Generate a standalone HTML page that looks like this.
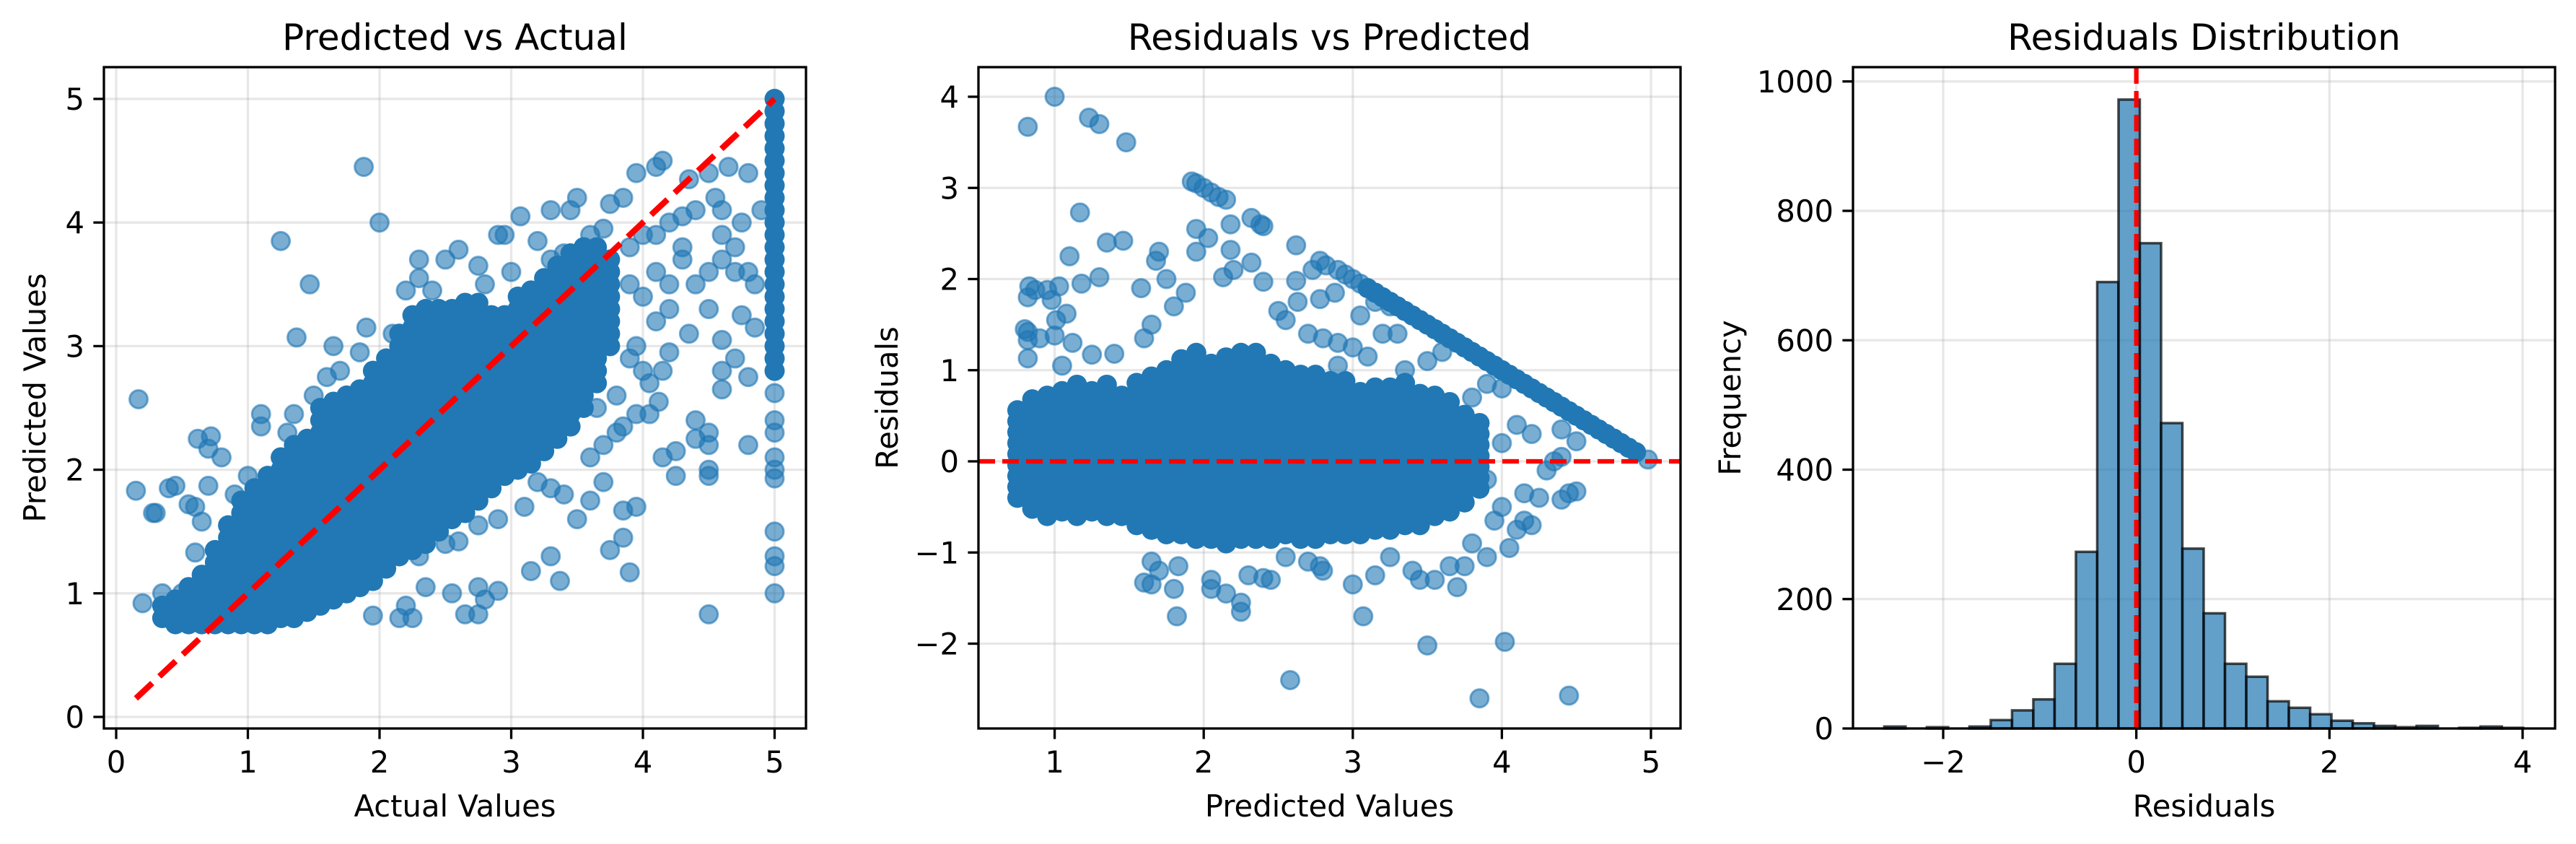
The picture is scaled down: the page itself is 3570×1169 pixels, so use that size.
<!DOCTYPE html>
<html><head><meta charset="utf-8"><title>Regression diagnostics</title>
<style>
html,body{margin:0;padding:0;background:#fff;}
svg{display:block;font-family:"DejaVu Sans","Liberation Sans",sans-serif;}
</style></head>
<body>
<svg id="fig" width="3570" height="1169" viewBox="0 0 3570 1169" xmlns="http://www.w3.org/2000/svg">
<rect width="3570" height="1169" fill="#fff"/>
</svg>
<script>
// ---------- Panel 1 data: Predicted vs Actual ----------
const p1ColX=[0.35,0.45,0.55,0.65,0.75,0.85,0.95,1.05,1.15,1.25,1.35,1.45,1.55,1.65,1.75,1.85,1.95,2.05,2.15,2.25,2.35,2.45,2.55,2.65,2.75,2.85,2.95,3.05,3.15,3.25,3.35,3.45,3.55,3.65,3.75,5.0];
const p1ColY=[
[0.8,0.9],
[0.75,0.85,0.95],
[0.75,0.85,0.95,1.05],
[0.75,0.85,0.95,1.05,1.15],
[0.75,0.85,0.95,1.05,1.15,1.25,1.35],
[0.75,0.85,0.95,1.05,1.15,1.25,1.35,1.45,1.55],
[0.75,0.85,0.95,1.05,1.15,1.25,1.35,1.45,1.55,1.65,1.75],
[0.75,0.85,0.95,1.05,1.15,1.25,1.35,1.45,1.55,1.65,1.75,1.85],
[0.75,0.85,0.95,1.05,1.15,1.25,1.35,1.45,1.55,1.65,1.75,1.85,1.95],
[0.8,0.9,1,1.1,1.2,1.3,1.4,1.5,1.6,1.7,1.8,1.9,2,2.1],
[0.8,0.9,1,1.1,1.2,1.3,1.4,1.5,1.6,1.7,1.8,1.9,2,2.1,2.2],
[0.85,0.95,1.05,1.15,1.25,1.35,1.45,1.55,1.65,1.75,1.85,1.95,2.05,2.15,2.25],
[0.9,1,1.1,1.2,1.3,1.4,1.5,1.6,1.7,1.8,1.9,2,2.1,2.2,2.3,2.4,2.5],
[0.95,1.05,1.15,1.25,1.35,1.45,1.55,1.65,1.75,1.85,1.95,2.05,2.15,2.25,2.35,2.45,2.55],
[1,1.1,1.2,1.3,1.4,1.5,1.6,1.7,1.8,1.9,2,2.1,2.2,2.3,2.4,2.5,2.6],
[1.05,1.15,1.25,1.35,1.45,1.55,1.65,1.75,1.85,1.95,2.05,2.15,2.25,2.35,2.45,2.55,2.65],
[1.1,1.2,1.3,1.4,1.5,1.6,1.7,1.8,1.9,2,2.1,2.2,2.3,2.4,2.5,2.6,2.7,2.8],
[1.2,1.3,1.4,1.5,1.6,1.7,1.8,1.9,2,2.1,2.2,2.3,2.4,2.5,2.6,2.7,2.8,2.9],
[1.3,1.4,1.5,1.6,1.7,1.8,1.9,2,2.1,2.2,2.3,2.4,2.5,2.6,2.7,2.8,2.9,3,3.1],
[1.35,1.45,1.55,1.65,1.75,1.85,1.95,2.05,2.15,2.25,2.35,2.45,2.55,2.65,2.75,2.85,2.95,3.05,3.15,3.25],
[1.4,1.5,1.6,1.7,1.8,1.9,2,2.1,2.2,2.3,2.4,2.5,2.6,2.7,2.8,2.9,3,3.1,3.2,3.3],
[1.5,1.6,1.7,1.8,1.9,2,2.1,2.2,2.3,2.4,2.5,2.6,2.7,2.8,2.9,3,3.1,3.2,3.3],
[1.6,1.7,1.8,1.9,2,2.1,2.2,2.3,2.4,2.5,2.6,2.7,2.8,2.9,3,3.1,3.2,3.3],
[1.65,1.75,1.85,1.95,2.05,2.15,2.25,2.35,2.45,2.55,2.65,2.75,2.85,2.95,3.05,3.15,3.25,3.35],
[1.75,1.85,1.95,2.05,2.15,2.25,2.35,2.45,2.55,2.65,2.75,2.85,2.95,3.05,3.15,3.25,3.35],
[1.85,1.95,2.05,2.15,2.25,2.35,2.45,2.55,2.65,2.75,2.85,2.95,3.05,3.15,3.25],
[1.95,2.05,2.15,2.25,2.35,2.45,2.55,2.65,2.75,2.85,2.95,3.05,3.15,3.25],
[2,2.1,2.2,2.3,2.4,2.5,2.6,2.7,2.8,2.9,3,3.1,3.2,3.3,3.4],
[2.05,2.15,2.25,2.35,2.45,2.55,2.65,2.75,2.85,2.95,3.05,3.15,3.25,3.35,3.45],
[2.15,2.25,2.35,2.45,2.55,2.65,2.75,2.85,2.95,3.05,3.15,3.25,3.35,3.45,3.55],
[2.25,2.35,2.45,2.55,2.65,2.75,2.85,2.95,3.05,3.15,3.25,3.35,3.45,3.55,3.65],
[2.35,2.45,2.55,2.65,2.75,2.85,2.95,3.05,3.15,3.25,3.35,3.45,3.55,3.65,3.75],
[2.5,2.6,2.7,2.8,2.9,3,3.1,3.2,3.3,3.4,3.5,3.6,3.7,3.8],
[2.7,2.8,2.9,3,3.1,3.2,3.3,3.4,3.5,3.6,3.7,3.8],
[3,3.1,3.2,3.3,3.4,3.5,3.6,3.7],
[2.8,2.9,3,3.1,3.2,3.3,3.4,3.5,3.6,3.7,3.8,3.9,4,4.1,4.2,4.3,4.4,4.5,4.6,4.7,4.8,4.9,5]
];
const p1SparseX=[0.17,0.15,0.3,0.28,0.2,0.4,0.45,0.55,0.6,0.62,0.72,0.7,0.8,0.7,0.65,0.6,1.25,1.47,1.37,1.88,2.0,1.1,1.1,1.35,1.65,1.9,1.85,2.1,2.2,2.3,2.5,2.6,2.75,2.9,2.95,3.07,3.2,3.3,3.5,3.45,3.75,3.85,3.95,4.1,4.15,4.35,4.5,4.65,4.8,4.55,4.4,4.2,4.3,4.6,4.7,4.85,4.5,4.35,4.6,4.7,4.75,4.85,4.1,4.0,4.05,4.15,4.2,3.95,4.05,4.12,4.15,4.25,4.25,4.4,4.4,4.5,4.5,4.5,4.5,4.6,4.6,4.8,4.8,4.5,3.85,3.95,3.85,3.75,3.9,3.3,3.37,3.15,3.5,3.6,3.7,3.4,3.3,2.9,2.8,2.75,2.65,2.75,2.55,2.35,2.25,2.15,2.2,1.95,2.3,2.5,2.6,2.75,2.9,3.1,3.2,3.0,3.6,3.7,3.8,3.85,3.65,3.8,3.6,3.9,3.95,3.5,3.75,3.9,4.0,4.1,4.2,4.3,4.4,4.5,4.6,4.7,4.8,4.6,4.75,4.9,4.2,4.0,3.9,4.1,4.3,3.7,3.6,3.4,3.3,3.0,2.8,2.6,2.3,2.4,1.6,1.5,1.7,1.3,1.6,0.9,1.0,0.5,0.35,5.0,5.0,5.0,5.0,5.0,5.0,5.0,5.0,5.0,5.0];
const p1SparseY=[2.57,1.83,1.65,1.65,0.92,1.85,1.87,1.72,1.7,2.25,2.27,2.17,2.1,1.87,1.58,1.33,3.85,3.5,3.07,4.45,4.0,2.45,2.35,2.45,3.0,3.15,2.95,3.1,3.45,3.7,3.7,3.78,3.65,3.9,3.9,4.05,3.85,4.1,4.2,4.1,4.15,4.2,4.4,4.45,4.5,4.35,4.4,4.45,4.4,4.2,4.1,4.0,3.8,3.9,3.6,3.5,3.3,3.1,3.05,2.9,3.25,3.15,3.2,2.8,2.7,2.8,2.95,2.45,2.45,2.55,2.1,2.15,1.95,2.25,2.4,2.3,2.2,2.0,1.95,2.65,2.8,2.2,2.75,0.83,1.67,1.7,1.45,1.35,1.17,1.3,1.1,1.18,1.6,1.75,1.9,1.8,1.85,1.02,0.95,1.05,0.83,0.83,1.0,1.05,0.8,0.8,0.9,0.82,1.3,1.4,1.42,1.55,1.6,1.7,1.9,2.0,2.1,2.2,2.3,2.35,2.5,2.6,2.8,2.9,3.0,3.0,3.3,3.5,3.4,3.6,3.5,3.7,3.5,3.6,3.7,3.8,3.6,4.1,4.0,4.1,3.3,3.9,3.8,3.9,4.05,3.95,3.9,3.75,3.7,3.6,3.5,3.3,3.55,3.45,2.75,2.6,2.8,2.3,2.3,1.8,1.95,1.0,1.0,1.0,1.22,1.3,1.5,1.93,2.0,2.1,2.3,2.4,2.62];
const p1Ticks=[0,1,2,3,4,5];

// ---------- Panel 2 data: Residuals vs Predicted ----------
const p2ColX=[0.75,0.85,0.95,1.05,1.15,1.25,1.35,1.45,1.55,1.65,1.75,1.85,1.95,2.05,2.15,2.25,2.35,2.45,2.55,2.65,2.75,2.85,2.95,3.05,3.15,3.25,3.35,3.45,3.55,3.65,3.75,3.85];
const p2ColY=[
[-0.4,-0.28,-0.16,-0.04,0.08,0.2,0.32,0.44,0.56],
[-0.52,-0.4,-0.28,-0.16,-0.04,0.08,0.2,0.32,0.44,0.56,0.68],
[-0.6,-0.48,-0.36,-0.24,-0.12,0,0.12,0.24,0.36,0.48,0.6,0.72],
[-0.55,-0.43,-0.31,-0.19,-0.07,0.05,0.17,0.29,0.41,0.53,0.65,0.77],
[-0.6,-0.48,-0.36,-0.24,-0.12,0,0.12,0.24,0.36,0.48,0.6,0.72,0.84],
[-0.55,-0.43,-0.31,-0.19,-0.07,0.05,0.17,0.29,0.41,0.53,0.65,0.77],
[-0.6,-0.48,-0.36,-0.24,-0.12,0,0.12,0.24,0.36,0.48,0.6,0.72,0.84],
[-0.6,-0.48,-0.36,-0.24,-0.12,0,0.12,0.24,0.36,0.48,0.6,0.72],
[-0.7,-0.58,-0.46,-0.34,-0.22,-0.1,0.02,0.14,0.26,0.38,0.5,0.62,0.74,0.86],
[-0.75,-0.63,-0.51,-0.39,-0.27,-0.15,-0.03,0.09,0.21,0.33,0.45,0.57,0.69,0.81,0.93],
[-0.8,-0.68,-0.56,-0.44,-0.32,-0.2,-0.08,0.04,0.16,0.28,0.4,0.52,0.64,0.76,0.88,1.0],
[-0.8,-0.68,-0.56,-0.44,-0.32,-0.2,-0.08,0.04,0.16,0.28,0.4,0.52,0.64,0.76,0.88,1.0,1.12],
[-0.85,-0.73,-0.61,-0.49,-0.37,-0.25,-0.13,-0.01,0.11,0.23,0.35,0.47,0.59,0.71,0.83,0.95,1.07,1.19],
[-0.85,-0.73,-0.61,-0.49,-0.37,-0.25,-0.13,-0.01,0.11,0.23,0.35,0.47,0.59,0.71,0.83,0.95,1.07],
[-0.9,-0.78,-0.66,-0.54,-0.42,-0.3,-0.18,-0.06,0.06,0.18,0.3,0.42,0.54,0.66,0.78,0.9,1.02,1.14],
[-0.85,-0.73,-0.61,-0.49,-0.37,-0.25,-0.13,-0.01,0.11,0.23,0.35,0.47,0.59,0.71,0.83,0.95,1.07,1.19],
[-0.85,-0.73,-0.61,-0.49,-0.37,-0.25,-0.13,-0.01,0.11,0.23,0.35,0.47,0.59,0.71,0.83,0.95,1.07,1.19],
[-0.85,-0.73,-0.61,-0.49,-0.37,-0.25,-0.13,-0.01,0.11,0.23,0.35,0.47,0.59,0.71,0.83,0.95,1.07],
[-0.8,-0.68,-0.56,-0.44,-0.32,-0.2,-0.08,0.04,0.16,0.28,0.4,0.52,0.64,0.76,0.88,1.0],
[-0.85,-0.73,-0.61,-0.49,-0.37,-0.25,-0.13,-0.01,0.11,0.23,0.35,0.47,0.59,0.71,0.83,0.95],
[-0.85,-0.73,-0.61,-0.49,-0.37,-0.25,-0.13,-0.01,0.11,0.23,0.35,0.47,0.59,0.71,0.83,0.95],
[-0.8,-0.68,-0.56,-0.44,-0.32,-0.2,-0.08,0.04,0.16,0.28,0.4,0.52,0.64,0.76,0.88],
[-0.8,-0.68,-0.56,-0.44,-0.32,-0.2,-0.08,0.04,0.16,0.28,0.4,0.52,0.64,0.76,0.88],
[-0.8,-0.68,-0.56,-0.44,-0.32,-0.2,-0.08,0.04,0.16,0.28,0.4,0.52,0.64,0.76],
[-0.75,-0.63,-0.51,-0.39,-0.27,-0.15,-0.03,0.09,0.21,0.33,0.45,0.57,0.69,0.81],
[-0.75,-0.63,-0.51,-0.39,-0.27,-0.15,-0.03,0.09,0.21,0.33,0.45,0.57,0.69,0.81],
[-0.7,-0.58,-0.46,-0.34,-0.22,-0.1,0.02,0.14,0.26,0.38,0.5,0.62,0.74,0.86],
[-0.7,-0.58,-0.46,-0.34,-0.22,-0.1,0.02,0.14,0.26,0.38,0.5,0.62,0.74],
[-0.6,-0.48,-0.36,-0.24,-0.12,0,0.12,0.24,0.36,0.48,0.6,0.72],
[-0.55,-0.43,-0.31,-0.19,-0.07,0.05,0.17,0.29,0.41,0.53,0.65],
[-0.45,-0.33,-0.21,-0.09,0.03,0.15,0.27,0.39,0.51],
[-0.3,-0.18,-0.06,0.06,0.18,0.3,0.42]
];
const p2SparseX=[0.82,1.0,1.23,1.3,1.48,1.17,1.35,1.46,1.1,1.3,1.18,0.83,0.87,0.95,1.03,0.98,0.82,1.01,1.08,0.8,0.82,0.82,0.9,1.0,1.12,0.82,1.05,1.25,1.4,1.58,1.7,1.68,1.75,1.6,1.65,1.8,1.88,1.92,1.95,2.0,2.05,2.1,2.15,1.95,2.03,1.95,2.18,2.18,2.2,2.13,2.32,2.38,2.4,2.32,2.4,2.5,2.55,2.62,2.62,2.63,2.73,2.78,2.82,2.9,2.95,3.0,3.05,2.78,2.88,3.05,3.15,3.25,3.3,2.7,2.8,2.9,3.0,1.65,1.6,1.65,1.7,1.8,1.83,1.82,2.05,2.05,2.15,2.25,2.25,2.3,2.4,2.45,2.55,2.7,2.8,2.78,3.0,3.07,3.15,3.25,3.4,3.45,3.55,3.65,3.7,3.75,3.8,3.9,3.95,4.0,4.05,4.1,4.15,4.2,4.15,4.25,4.4,4.45,4.5,4.3,4.35,4.4,4.4,4.5,4.2,4.0,4.1,4.0,3.9,3.8,3.7,3.75,3.9,3.6,3.55,2.58,3.5,3.85,4.02,4.45,4.98,3.2,3.1,3.35,3.5,3.6,2.9];
const p2SparseY=[3.67,4.0,3.77,3.7,3.5,2.73,2.4,2.42,2.25,2.02,1.95,1.92,1.88,1.88,1.92,1.77,1.8,1.55,1.62,1.45,1.42,1.33,1.35,1.38,1.3,1.13,1.05,1.17,1.18,1.9,2.3,2.2,2.0,1.35,1.5,1.7,1.85,3.07,3.05,3.0,2.95,2.9,2.87,2.55,2.45,2.3,2.6,2.32,2.1,2.02,2.67,2.6,2.58,2.18,1.97,1.65,1.55,2.37,1.98,1.75,2.1,2.2,2.15,2.1,2.05,2.0,1.95,1.78,1.85,1.6,1.75,1.7,1.4,1.4,1.35,1.3,1.25,-1.1,-1.33,-1.35,-1.2,-1.4,-1.15,-1.7,-1.3,-1.4,-1.45,-1.55,-1.65,-1.25,-1.28,-1.3,-1.05,-1.1,-1.2,-1.15,-1.35,-1.7,-1.25,-1.05,-1.2,-1.3,-1.3,-1.15,-1.38,-1.15,-0.9,-1.05,-0.65,-0.5,-0.95,-0.75,-0.65,-0.7,-0.35,-0.4,-0.42,-0.35,-0.33,-0.1,0.0,0.05,0.35,0.22,0.3,0.2,0.4,0.8,0.85,0.7,0.5,-0.3,-0.2,-0.5,-0.3,-2.4,-2.02,-2.6,-1.98,-2.57,0.02,1.4,1.15,1.0,1.1,1.2,1.05];
const p2LineX=[3.1,3.15,3.2,3.25,3.3,3.35,3.4,3.45,3.5,3.55,3.6,3.65,3.7,3.75,3.8,3.85,3.9,3.95,4.0,4.05,4.1,4.15,4.2,4.25,4.3,4.35,4.4,4.45,4.5,4.55,4.6,4.65,4.7,4.75,4.8,4.85,4.9];
const p2LineY=[1.9,1.85,1.8,1.75,1.7,1.65,1.6,1.55,1.5,1.45,1.4,1.35,1.3,1.25,1.2,1.15,1.1,1.05,1.0,0.95,0.9,0.85,0.8,0.75,0.7,0.65,0.6,0.55,0.5,0.45,0.4,0.35,0.3,0.25,0.2,0.15,0.1];
const p2XTicks=[1,2,3,4,5];
const p2YTicks=[-2,-1,0,1,2,3,4];
const p2YTickLabels=["\u22122","\u22121","0","1","2","3","4"];

// ---------- Panel 3 data: histogram ----------
const histMin=-2.61, histMax=4.005;
const histCounts=[3,0,2,0,3,13,28,45,100,273,690,972,750,472,278,178,100,80,42,32,22,12,8,4,2,4,0,1,3,1];
const p3XTicks=[-2,0,2,4];
const p3XTickLabels=["\u22122","0","2","4"];
const p3YTicks=[0,200,400,600,800,1000];

const NS="http://www.w3.org/2000/svg";
const svg=document.getElementById('fig');
const TOP=93, BOT=1009;
function el(tag,attrs,parent){const e=document.createElementNS(NS,tag);for(const k in attrs)e.setAttribute(k,attrs[k]);(parent||svg).appendChild(e);return e;}
function lin(d0,d1,r0,r1){return v=>r0+(v-d0)*(r1-r0)/(d1-d0);}

function axesGrid(g,L,T,R,B,xs,ys,xt,yt,key){
  xt.forEach(v=>{const l=el('line',{x1:xs(v),x2:xs(v),y1:T,y2:B,stroke:'#b0b0b0','stroke-opacity':0.3,'stroke-width':3.3},g);
    
    });
  yt.forEach(v=>{const l=el('line',{x1:L,x2:R,y1:ys(v),y2:ys(v),stroke:'#b0b0b0','stroke-opacity':0.3,'stroke-width':3.3},g);
    
    });
}
function axesDecor(g,L,T,R,B,xs,ys,xt,xl,yt,yl,title,xlab,ylab,ylabX,key){
  const fr=el('rect',{x:L,y:T,width:R-L,height:B-T,fill:'none',stroke:'#000','stroke-width':3.3},g);
  
  
  xt.forEach((v,i)=>{el('line',{x1:xs(v),x2:xs(v),y1:B,y2:B+14.6,stroke:'#000','stroke-width':3.3},g);
    const t=el('text',{x:xs(v),y:B+61,'font-size':41.7,'text-anchor':'middle',fill:'#000'},g);t.textContent=xl[i];
    
    });
  yt.forEach((v,i)=>{el('line',{x1:L-14.6,x2:L,y1:ys(v),y2:ys(v),stroke:'#000','stroke-width':3.3},g);
    const t=el('text',{x:L-27,y:ys(v)+15,'font-size':41.7,'text-anchor':'end',fill:'#000'},g);t.textContent=yl[i];
    
    });
  const tt=el('text',{x:(L+R)/2,y:69,'font-size':50,'text-anchor':'middle',fill:'#000'},g);tt.textContent=title;
  
  
  const xa=el('text',{x:(L+R)/2,y:1131,'font-size':41.7,'text-anchor':'middle',fill:'#000'},g);xa.textContent=xlab;
  
  
  const yc=(T+B)/2;
  const ya=el('text',{x:ylabX,y:yc,'font-size':41.7,'text-anchor':'middle',fill:'#000',transform:`rotate(-90 ${ylabX} ${yc}) translate(0 15)`},g);ya.textContent=ylab;
  
  
}
const BLUE='#1f77b4';
function dot(g,x,y,core,name){
  const c=el('circle',{cx:x,cy:y,r:core?14:12.5,fill:core?'#2178b4':BLUE,'fill-opacity':core?1:0.6,stroke:BLUE,'stroke-opacity':core?0:0.6,'stroke-width':core?0:3},g);
  
  
}

// ---------- Panel 1 ----------
(function(){
  const L=144,T=TOP,R=1117,B=BOT;
  const xs=lin(0,5,161,1073.5), ys=lin(0,5,993,137);
  const g=el('g',{});
  
  
  axesGrid(g,L,T,R,B,xs,ys,p1Ticks,p1Ticks,'p1');
  const clip=el('clipPath',{id:'c1'},g);el('rect',{x:L,y:T,width:R-L,height:B-T},clip);
  const pts=el('g',{'clip-path':'url(#c1)'},g);
  p1SparseX.forEach((x,i)=>dot(pts,xs(x),ys(p1SparseY[i]),false,'scatter-point'));
  p1ColX.forEach((x,i)=>p1ColY[i].forEach(y=>dot(pts,xs(x),ys(y),true,'scatter-point-dense')));
  const rl=el('line',{x1:xs(0.15),y1:ys(0.15),x2:xs(5),y2:ys(5),stroke:'#ff0000','stroke-width':8.3,'stroke-dasharray':'31 13.5'},pts);
  
  
  axesDecor(g,L,T,R,B,xs,ys,p1Ticks,p1Ticks.map(String),p1Ticks,p1Ticks.map(String),'Predicted vs Actual','Actual Values','Predicted Values',48,'p1');
})();

// ---------- Panel 2 ----------
(function(){
  const L=1356,T=TOP,R=2329,B=BOT;
  const xs=lin(1,5,1461.6,2288), ys=lin(0,4,639,134);
  const g=el('g',{});
  
  
  axesGrid(g,L,T,R,B,xs,ys,p2XTicks,p2YTicks,'p2');
  const clip=el('clipPath',{id:'c2'},g);el('rect',{x:L,y:T,width:R-L,height:B-T},clip);
  const pts=el('g',{'clip-path':'url(#c2)'},g);
  p2SparseX.forEach((x,i)=>dot(pts,xs(x),ys(p2SparseY[i]),false,'scatter-point'));
  p2LineX.forEach((x,i)=>dot(pts,xs(x),ys(p2LineY[i]),true,'scatter-point-capped'));
  p2ColX.forEach((x,i)=>p2ColY[i].forEach(y=>dot(pts,xs(x),ys(y),true,'scatter-point-dense')));
  const zl=el('line',{x1:L,x2:R,y1:ys(0),y2:ys(0),stroke:'#ff0000','stroke-width':6.25,'stroke-dasharray':'23 10'},pts);
  
  
  axesDecor(g,L,T,R,B,xs,ys,p2XTicks,p2XTicks.map(String),p2YTicks,p2YTickLabels,'Residuals vs Predicted','Predicted Values','Residuals',1229,'p2');
})();

// ---------- Panel 3 ----------
(function(){
  const L=2568,T=TOP,R=3541,B=BOT;
  const xs=lin(-2,4,2693,3496), ys=lin(0,1000,1009,112.8);
  const g=el('g',{});
  
  
  axesGrid(g,L,T,R,B,xs,ys,p3XTicks,p3YTicks,'p3');
  const w=(histMax-histMin)/histCounts.length;
  histCounts.forEach((c,i)=>{
    const x0=xs(histMin+i*w), x1=xs(histMin+(i+1)*w);
    const r=el('rect',{x:x0,y:ys(c),width:x1-x0,height:ys(0)-ys(c),fill:'#1f77b4','fill-opacity':0.7,stroke:'#000','stroke-opacity':0.7,'stroke-width':3.5},g);
    
    
  });
  const vl=el('line',{x1:xs(0),x2:xs(0),y1:T,y2:B,stroke:'#ff0000','stroke-width':6.25,'stroke-dasharray':'23 10'},g);
  
  
  axesDecor(g,L,T,R,B,xs,ys,p3XTicks,p3XTickLabels,p3YTicks,p3YTicks.map(String),'Residuals Distribution','Residuals','Frequency',2397,'p3');
})();
</script>
</body></html>
